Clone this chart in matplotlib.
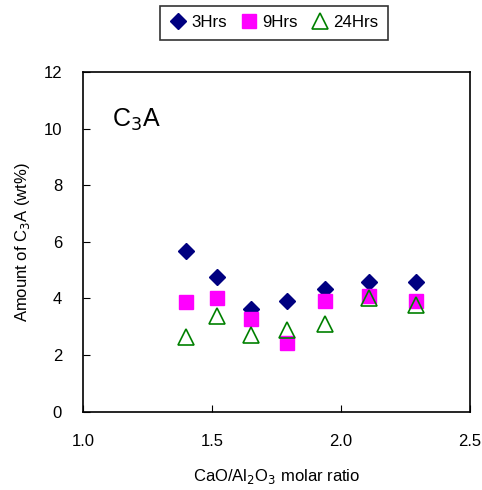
import numpy as np
import matplotlib
matplotlib.use("Agg")
import matplotlib.pyplot as plt

plt.rcParams['font.family'] = ['Liberation Sans', 'DejaVu Sans']

# CaO/Al2O3 molar ratio
ratio = [1.40, 1.52, 1.65, 1.79, 1.94, 2.11, 2.29]
c3a_3h = [5.68, 4.75, 3.62, 3.91, 4.32, 4.57, 4.57]
c3a_9h = [3.88, 4.03, 3.29, 2.44, 3.92, 4.09, 3.92]
c3a_24h = [2.65, 3.39, 2.69, 2.89, 3.10, 4.03, 3.75]

fig = plt.figure(figsize=(4.82, 4.9), dpi=100)
ax = fig.add_axes([0.172, 0.16, 0.803, 0.693])

ax.plot(ratio, c3a_3h, 'D', color='#000080', ms=8.5, ls='none', label='3Hrs')
ax.plot(ratio, c3a_9h, 's', color='#ff00ff', ms=10, ls='none', label='9Hrs')
ax.plot(ratio, c3a_24h, '^', mfc='none', mec='#008000', mew=1.2, ms=11, ls='none', label='24Hrs')

ax.set_xlim(1.0, 2.5)
ax.set_ylim(0, 12)
ax.set_xticks([1.0, 1.5, 2.0, 2.5])
ax.set_xticklabels(['1.0', '1.5', '2.0', '2.5'])
ax.set_yticks(range(0, 13, 2))
ax.tick_params(direction='in', labelsize=12, length=5)
ax.tick_params(axis='x', pad=16)
ax.tick_params(axis='y', pad=15)
for s in ax.spines.values():
    s.set_linewidth(1.2)

ax.set_xlabel('CaO/Al$_2$O$_3$ molar ratio', fontsize=12, labelpad=13)
ax.set_ylabel('Amount of C$_3$A (wt%)', fontsize=12, labelpad=8)
ax.text(0.075, 0.84, 'C$_3$A', transform=ax.transAxes, fontsize=18)

leg = fig.legend(loc='upper center', bbox_to_anchor=(0.568, 1.005), ncol=3, fontsize=12.2,
                 frameon=True, fancybox=False, edgecolor='black', handletextpad=0.3,
                 columnspacing=0.8, handlelength=1.0, borderpad=0.55)
leg.get_frame().set_linewidth(1.2)

fig.savefig('out.png', dpi=100)
